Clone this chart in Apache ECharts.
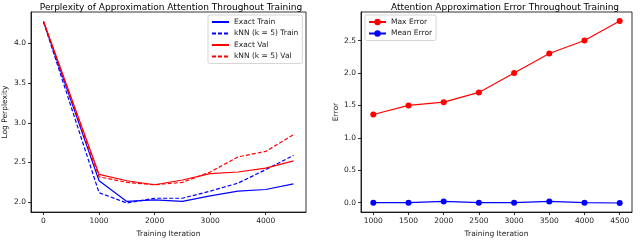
<!DOCTYPE html>
<html><head><meta charset="utf-8">
<script src="https://cdn.jsdelivr.net/npm/echarts@6/dist/echarts.min.js"></script>
<style>html,body{margin:0;padding:0;background:#fff}#c{width:640px;height:243px}</style>
</head><body><div id="c"></div>
<script>
// ---- data ----
const iterations = [0, 1000, 1500, 2000, 2500, 3000, 3500, 4000, 4500];
const exactTrain = [4.27, 2.27, 2.01, 2.03, 2.01, 2.08, 2.14, 2.16, 2.23];
const knnTrain   = [4.27, 2.12, 1.99, 2.05, 2.05, 2.14, 2.24, 2.41, 2.59];
const exactVal   = [4.28, 2.35, 2.27, 2.22, 2.28, 2.36, 2.38, 2.43, 2.52];
const knnVal     = [4.27, 2.32, 2.25, 2.22, 2.25, 2.38, 2.57, 2.64, 2.85];

const errIterations = [1000, 1500, 2000, 2500, 3000, 3500, 4000, 4500];
const maxError  = [1.36, 1.50, 1.55, 1.70, 2.00, 2.30, 2.50, 2.80];
const meanError = [0.00, 0.00, 0.02, 0.00, 0.00, 0.02, 0.00, -0.005];

const leftXTicks  = [0, 1000, 2000, 3000, 4000];
const leftYTicks  = [2.0, 2.5, 3.0, 3.5, 4.0];
const rightXTicks = [1000, 1500, 2000, 2500, 3000, 3500, 4000, 4500];
const rightYTicks = [0.0, 0.5, 1.0, 1.5, 2.0, 2.5];

const titles = ['Perplexity of Approximation Attention Throughout Training',
                'Attention Approximation Error Throughout Training'];

// ---- chart ----
const FONT = 'DejaVu Sans';
const zip = (xs, ys) => xs.map((x, i) => [x, ys[i]]);
const pad = v => (v.max - v.min) * 0.05;

function xAxis(gi, ticks) {
  return {
    type: 'value', gridIndex: gi,
    min: v => v.min - pad(v), max: v => v.max + pad(v),
    name: 'Training Iteration', nameLocation: 'middle', nameGap: 17,
    nameTextStyle: { fontFamily: FONT, fontSize: 7.5, color: '#222' },
    axisLine: { show: true, onZero: false, lineStyle: { color: '#000', width: 0.8 } },
    axisTick: { show: true, length: 3, customValues: ticks, lineStyle: { color: '#000', width: 0.8 } },
    axisLabel: { customValues: ticks, margin: 5, fontFamily: FONT, fontSize: 7.5, color: '#222',
                 formatter: v => String(v) },
    splitLine: { show: false }
  };
}
function yAxis(gi, ticks, name, gap) {
  return {
    type: 'value', gridIndex: gi,
    min: v => v.min - pad(v), max: v => v.max + pad(v),
    name: name, nameLocation: 'middle', nameGap: gap, nameRotate: 90,
    nameTextStyle: { fontFamily: FONT, fontSize: 7.5, color: '#222' },
    axisLine: { show: true, onZero: false, lineStyle: { color: '#000', width: 0.8 } },
    axisTick: { show: true, length: 3, customValues: ticks, lineStyle: { color: '#000', width: 0.8 } },
    axisLabel: { customValues: ticks, margin: 5, fontFamily: FONT, fontSize: 7.5, color: '#222',
                 formatter: v => v.toFixed(1) },
    splitLine: { show: false }
  };
}
function lineSeries(name, xs, ys, color, dashed, gi, marker) {
  return {
    type: 'line', name: name, xAxisIndex: gi, yAxisIndex: gi,
    data: zip(xs, ys),
    symbol: marker ? 'circle' : 'none', symbolSize: 6, showSymbol: !!marker,
    itemStyle: { color: color },
    lineStyle: { color: color, width: 1.2, type: dashed ? [4, 2] : 'solid' },
    animation: false, silent: true
  };
}

const chart = echarts.init(document.getElementById('c'), null, { renderer: 'canvas' });
chart.setOption({
  animation: false,
  textStyle: { fontFamily: FONT },
  title: [
    { text: titles[0], left: 166, top: -2, textAlign: 'center',
      textStyle: { fontFamily: FONT, fontSize: 9, fontWeight: 'normal', color: '#000' } },
    { text: titles[1], left: 500, top: -2, textAlign: 'center',
      textStyle: { fontFamily: FONT, fontSize: 9, fontWeight: 'normal', color: '#000' } }
  ],
  grid: [
    { left: 29, top: 12, width: 277, height: 207, show: true, borderColor: '#000', borderWidth: 0.8, backgroundColor: '#fff' },
    { left: 361, top: 12, width: 271, height: 207, show: true, borderColor: '#000', borderWidth: 0.8, backgroundColor: '#fff' }
  ],
  xAxis: [xAxis(0, leftXTicks), xAxis(1, rightXTicks)],
  yAxis: [yAxis(0, leftYTicks, 'Log Perplexity', 22), yAxis(1, rightYTicks, 'Error', 20)],
  legend: [
    { data: ['Exact Train', 'kNN (k = 5) Train', 'Exact Val', 'kNN (k = 5) Val'],
      orient: 'vertical', left: 208, top: 15, itemWidth: 17, itemHeight: 8, itemGap: 3.5,
      itemStyle: { opacity: 0 },
      padding: [3, 4, 3, 3], borderColor: '#ccc', borderWidth: 0.8, borderRadius: 2,
      backgroundColor: 'rgba(255,255,255,0.8)',
      textStyle: { fontFamily: FONT, fontSize: 7.5, color: '#222' } },
    { data: ['Max Error', 'Mean Error'],
      orient: 'vertical', left: 365, top: 15, itemWidth: 17, itemHeight: 8, itemGap: 3.5,
      padding: [3, 4, 3, 3], borderColor: '#ccc', borderWidth: 0.8, borderRadius: 2,
      backgroundColor: 'rgba(255,255,255,0.8)',
      textStyle: { fontFamily: FONT, fontSize: 7.5, color: '#222' } }
  ],
  series: [
    lineSeries('Exact Train', iterations, exactTrain, '#0000ff', false, 0, false),
    lineSeries('kNN (k = 5) Train', iterations, knnTrain, '#0000ff', true, 0, false),
    lineSeries('Exact Val', iterations, exactVal, '#ff0000', false, 0, false),
    lineSeries('kNN (k = 5) Val', iterations, knnVal, '#ff0000', true, 0, false),
    lineSeries('Max Error', errIterations, maxError, '#ff0000', false, 1, true),
    lineSeries('Mean Error', errIterations, meanError, '#0000ff', false, 1, true)
  ]
});
</script></body></html>
